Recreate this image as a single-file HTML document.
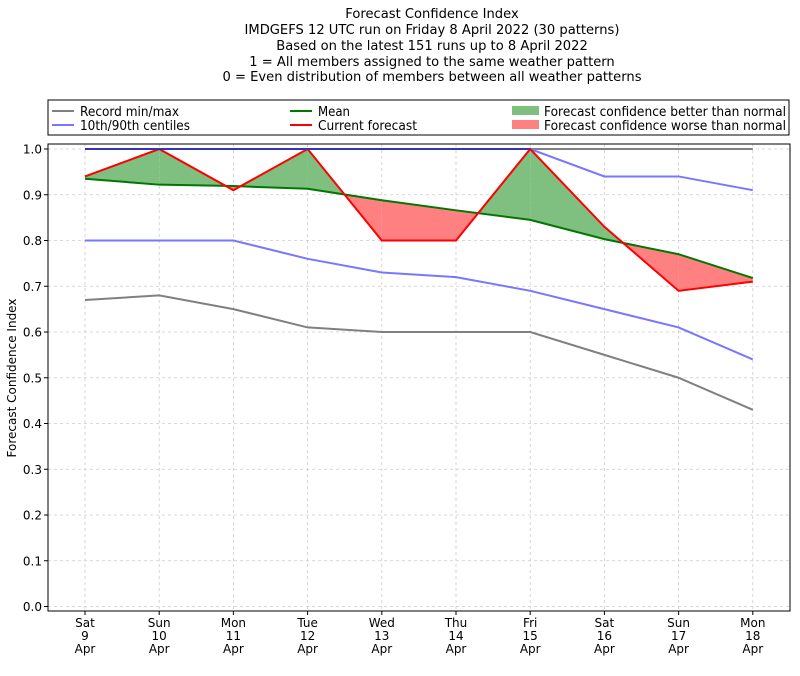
<!DOCTYPE html><html><head><style>body{margin:0;background:#fff}svg{display:block;font-family:"DejaVu Sans",sans-serif}</style></head><body>
<svg id="s" width="800" height="676" xmlns="http://www.w3.org/2000/svg">
<g font-size="13.1" text-anchor="middle" fill="#000">
<text x="432" y="18">Forecast Confidence Index</text>
<text x="432" y="34">IMDGEFS 12 UTC run on Friday 8 April 2022 (30 patterns)</text>
<text x="432" y="50">Based on the latest 151 runs up to 8 April 2022</text>
<text x="432" y="66">1 = All members assigned to the same weather pattern</text>
<text x="432" y="81">0 = Even distribution of members between all weather patterns</text>
</g>
<rect x="48" y="100" width="741" height="35" fill="#fff" stroke="#000" stroke-width="1"/>
<g font-size="13.2">
<line x1="52" y1="111" x2="74" y2="111" stroke="#808080" stroke-width="2"/><text x="80" y="116" textLength="99" lengthAdjust="spacingAndGlyphs">Record min/max</text>
<line x1="52" y1="125" x2="74" y2="125" stroke="#7777ff" stroke-width="2"/><text x="80" y="130" textLength="110" lengthAdjust="spacingAndGlyphs">10th/90th centiles</text>
<line x1="290" y1="111" x2="312" y2="111" stroke="#007700" stroke-width="2"/><text x="318" y="116" textLength="32" lengthAdjust="spacingAndGlyphs">Mean</text>
<line x1="290" y1="125" x2="312" y2="125" stroke="#ff0000" stroke-width="2"/><text x="318" y="130" textLength="99" lengthAdjust="spacingAndGlyphs">Current forecast</text>
<rect x="512" y="106" width="27" height="9" fill="#7fbf7f"/><text x="544" y="116" textLength="242" lengthAdjust="spacingAndGlyphs">Forecast confidence better than normal</text>
<rect x="512" y="120" width="27" height="9" fill="#ff8080"/><text x="544" y="130" textLength="242" lengthAdjust="spacingAndGlyphs">Forecast confidence worse than normal</text>
</g>
<g id="p"></g>
</svg>
<script>
var L=48,R=790,T=144,B=611,y0=606.5,y1=149;
function X(i){return 85+i*74.2}function Y(v){return y0-(y0-y1)*v}
var mx=[1,1,1,1,1,1,1,1,1,1],mn=[.67,.68,.65,.61,.60,.60,.60,.55,.50,.43],
p90=[1,1,1,1,1,1,1,.94,.94,.91],p10=[.8,.8,.8,.76,.73,.72,.69,.65,.61,.54],
me=[.935,.922,.919,.913,.888,.866,.845,.803,.770,.718],cu=[.94,1,.91,1,.80,.80,1,.83,.69,.71];
var s='';
for(var k=0;k<=10;k++){var v=k/10,y=Y(v);s+='<line x1="'+L+'" x2="'+R+'" y1="'+y+'" y2="'+y+'" stroke="#ccc" stroke-dasharray="3,3" stroke-width="0.8"/>';
s+='<line x1="'+(L-4)+'" x2="'+L+'" y1="'+y+'" y2="'+y+'" stroke="#000"/><text x="'+(L-6)+'" y="'+(y+4.5)+'" font-size="12" text-anchor="end">'+v.toFixed(1)+'</text>';}
var d=[['Sat',9],['Sun',10],['Mon',11],['Tue',12],['Wed',13],['Thu',14],['Fri',15],['Sat',16],['Sun',17],['Mon',18]];
for(var i=0;i<10;i++){var x=X(i);s+='<line x1="'+x+'" x2="'+x+'" y1="'+T+'" y2="'+B+'" stroke="#ccc" stroke-dasharray="3,3" stroke-width="0.8"/><line x1="'+x+'" x2="'+x+'" y1="'+B+'" y2="'+(B+4)+'" stroke="#000"/>';
s+='<text x="'+x+'" y="627" font-size="12" text-anchor="middle">'+d[i][0]+'</text><text x="'+x+'" y="640" font-size="12" text-anchor="middle">'+d[i][1]+'</text><text x="'+x+'" y="653" font-size="12" text-anchor="middle">Apr</text>';}
for(var i=0;i<9;i++){var a=cu[i]-me[i],b=cu[i+1]-me[i+1];
 function poly(pts,c){s+='<polygon points="'+pts.map(function(p){return p[0]+','+p[1]}).join(' ')+'" fill="'+c+'"/>';}
 if(a*b>=0){var c=(a+b)>0?'#7fbf7f':'#ff8080';poly([[X(i),Y(cu[i])],[X(i+1),Y(cu[i+1])],[X(i+1),Y(me[i+1])],[X(i),Y(me[i])]],c);}
 else{var t=a/(a-b),xc=X(i)+74.2*t,yc=Y(me[i]+(me[i+1]-me[i])*t);
  poly([[X(i),Y(cu[i])],[xc,yc],[X(i),Y(me[i])]],a>0?'#7fbf7f':'#ff8080');
  poly([[xc,yc],[X(i+1),Y(cu[i+1])],[X(i+1),Y(me[i+1])]],b>0?'#7fbf7f':'#ff8080');}}
function line(a,c){s+='<polyline fill="none" stroke="'+c+'" stroke-width="2" points="'+a.map(function(v,i){return X(i)+','+Y(v)}).join(' ')+'"/>';}
line(mx,'#808080');line(mn,'#808080');line(p90,'#7777ff');line(p10,'#7777ff');line(me,'#007700');line(cu,'#ff0000');
s+='<line x1="'+X(0)+'" x2="'+X(6)+'" y1="'+Y(1)+'" y2="'+Y(1)+'" stroke="#3333bb" stroke-width="2"/>';
s+='<rect x="'+L+'" y="'+T+'" width="'+(R-L)+'" height="'+(B-T)+'" fill="none" stroke="#000" stroke-width="1"/>';
s+='<text transform="translate(16,378) rotate(-90)" font-size="12" text-anchor="middle">Forecast Confidence Index</text>';
document.getElementById('p').innerHTML=s;
</script></body></html>
